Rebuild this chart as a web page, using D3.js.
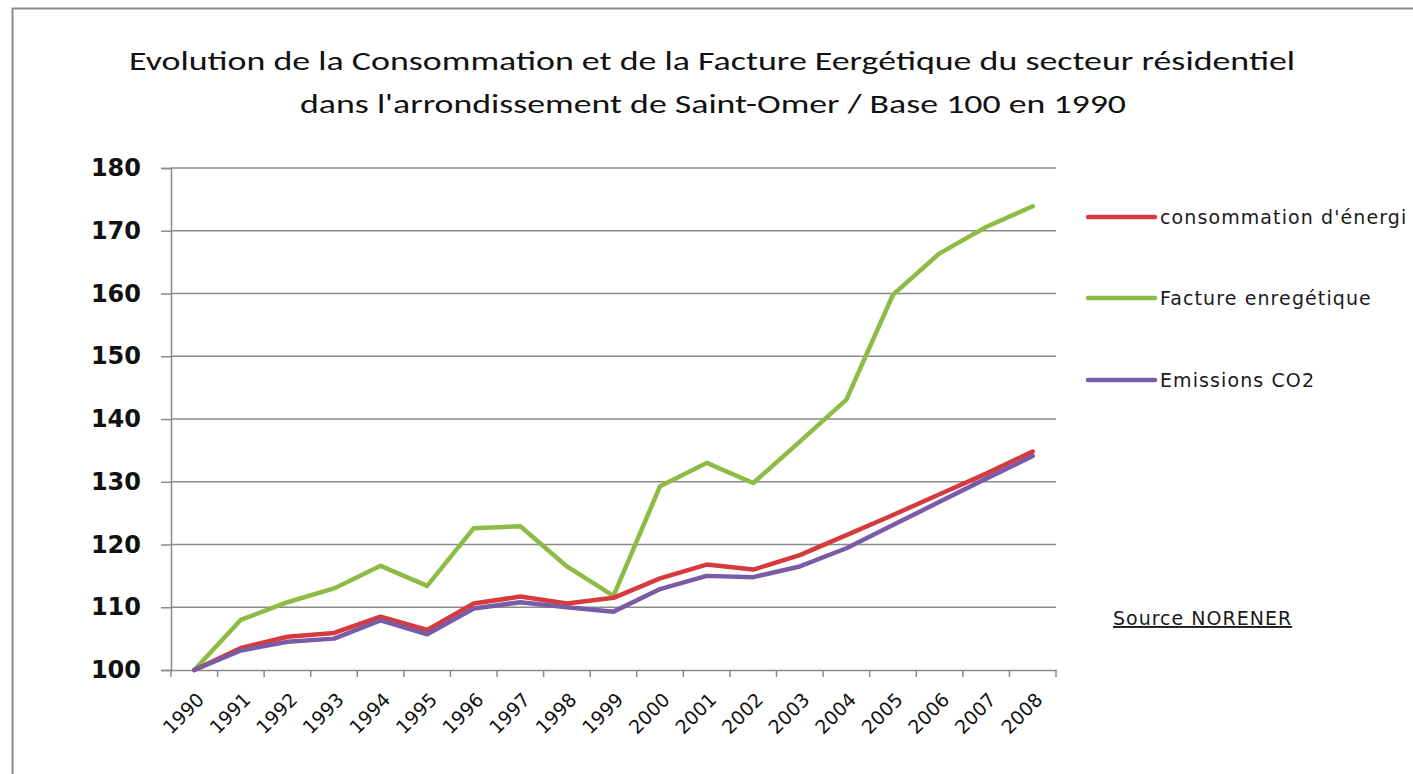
<!DOCTYPE html>
<html>
<head>
<meta charset="utf-8">
<script src="https://cdn.jsdelivr.net/npm/d3@7"></script>
<style>
  body { margin: 0; background: #fff; }
  svg { display: block; }
</style>
</head>
<body>
<div id="chart"></div>
<script>
// data (base 100 in 1990)
var years = ["1990","1991","1992","1993","1994","1995","1996","1997","1998","1999",
             "2000","2001","2002","2003","2004","2005","2006","2007","2008"];
var consommation = [100, 103.5, 105.3, 105.9, 108.5, 106.4, 110.6, 111.7, 110.6, 111.5,
                    114.6, 116.8, 116.0, 118.3, 121.5, 124.7, 128.0, 131.3, 134.8];
var facture = [100, 108.0, 110.8, 113.0, 116.6, 113.4, 122.6, 122.9, 116.5, 111.8,
               129.3, 133.0, 129.8, 136.4, 143.1, 159.8, 166.4, 170.6, 173.9];
var emissions = [100, 103.1, 104.5, 105.0, 107.9, 105.7, 109.8, 110.8, 110.0, 109.3,
                 112.9, 115.0, 114.8, 116.5, 119.4, 123.1, 126.8, 130.5, 134.1];
var yTicks = [100, 110, 120, 130, 140, 150, 160, 170, 180];
var seriesNames = ["consommation d'énergi", "Facture enregétique", "Emissions CO2"];
var titleLines = ["Evolution de la Consommation et de la Facture Eergétique du secteur résidentiel",
                  "dans l'arrondissement  de Saint-Omer / Base 100 en 1990"];

var svgWidth = 1413, svgHeight = 774;
var plot = {left: 171, right: 1056, top: 168, bottom: 670};

var svg = d3.select("#chart").append("svg")
    .attr("width", svgWidth)
    .attr("height", svgHeight);

// chart frame
svg.append("rect")
    .attr("x", 12.5).attr("y", 8.5)
    .attr("width", 1500).attr("height", 1000)
    .attr("fill", "#fff")
    .attr("stroke", "#8c8c8c")
    .attr("stroke-width", 2);

// title
var titleFont = "Carlito, 'Liberation Sans Narrow', 'Open Sans', sans-serif";
svg.append("text")
    .attr("x", 712).attr("y", 70)
    .attr("text-anchor", "middle")
    .attr("font-family", titleFont)
    .attr("font-size", 27)
    .attr("fill", "#111")
    .attr("textLength", 1166)
    .attr("lengthAdjust", "spacingAndGlyphs")
    .text(titleLines[0]);
svg.append("text")
    .attr("x", 713).attr("y", 113)
    .attr("text-anchor", "middle")
    .attr("font-family", titleFont)
    .attr("font-size", 27)
    .attr("fill", "#111")
    .attr("textLength", 826)
    .attr("lengthAdjust", "spacingAndGlyphs")
    .text(titleLines[1]);

var x = d3.scaleBand().domain(years).range([plot.left, plot.right]).padding(0);
var y = d3.scaleLinear().domain([100, 180]).range([plot.bottom, plot.top]);
var cx = function(d) { return x(d) + x.bandwidth() / 2; };

// gridlines
svg.append("g")
    .selectAll("line")
    .data(yTicks.filter(function(t) { return t > 100; }))
    .enter().append("line")
    .attr("x1", plot.left).attr("x2", plot.right)
    .attr("y1", function(d) { return y(d); })
    .attr("y2", function(d) { return y(d); })
    .attr("stroke", "#8a8a8a")
    .attr("stroke-width", 1.5);

// y axis
var leftAxis = d3.axisLeft(y).tickValues(yTicks).tickSize(10).tickPadding(20);
var yAxis = svg.append("g")
    .attr("transform", "translate(" + plot.left + ",0)")
    .call(leftAxis);
yAxis.select(".domain").attr("stroke", "#8a8a8a").attr("stroke-width", 1.5);
yAxis.selectAll(".tick line").attr("stroke", "#8a8a8a").attr("stroke-width", 1.5);
yAxis.selectAll(".tick text")
    .attr("font-family", "'DejaVu Sans', sans-serif")
    .attr("font-weight", "bold")
    .attr("font-size", 24)
    .attr("fill", "#111");

// x axis: ticks at category boundaries
var bottomAxis = d3.axisBottom(x).tickSize(0).tickFormat("");
var xAxis = svg.append("g")
    .attr("transform", "translate(0," + plot.bottom + ")")
    .call(bottomAxis);
xAxis.select(".domain").attr("stroke", "#8a8a8a").attr("stroke-width", 1.5);
xAxis.selectAll(".tick").remove();
var bounds = years.map(function(d) { return x(d); }).concat([plot.right]);
xAxis.selectAll(".bnd")
    .data(bounds)
    .enter().append("line")
    .attr("class", "bnd")
    .attr("x1", function(d) { return d; }).attr("x2", function(d) { return d; })
    .attr("y1", 0).attr("y2", 7)
    .attr("stroke", "#8a8a8a")
    .attr("stroke-width", 1.5);
xAxis.selectAll(".lbl")
    .data(years)
    .enter().append("text")
    .attr("class", "lbl")
    .attr("text-anchor", "end")
    .attr("transform", function(d) { return "translate(" + (cx(d) + 11) + ",31) rotate(-45)"; })
    .attr("font-family", "'DejaVu Sans', sans-serif")
    .attr("font-size", 19)
    .attr("fill", "#111")
    .text(function(d) { return d; });

// lines
var drawLine = d3.line()
    .x(function(d, i) { return cx(years[i]); })
    .y(function(d) { return y(d); });

var colors = ["#d63a3c", "#8dbb45", "#7a5ba6"];
var allSeries = [consommation, facture, emissions];
var drawOrder = [1, 0, 2];

drawOrder.forEach(function(k) {
    svg.append("path")
        .datum(allSeries[k])
        .attr("d", drawLine(allSeries[k]))
        .attr("fill", "none")
        .attr("stroke", colors[k])
        .attr("stroke-width", 4.5)
        .attr("stroke-linejoin", "round")
        .attr("stroke-linecap", "round");
});

// legend
var legendY = [217, 298, 380];
seriesNames.forEach(function(name, i) {
    svg.append("line")
        .attr("x1", 1088).attr("x2", 1155)
        .attr("y1", legendY[i]).attr("y2", legendY[i])
        .attr("stroke", colors[i])
        .attr("stroke-width", 4.5)
        .attr("stroke-linecap", "round");
    svg.append("text")
        .attr("x", 1160).attr("y", legendY[i] + 7)
        .attr("font-family", "'DejaVu Sans', sans-serif")
        .attr("font-size", 19)
        .attr("letter-spacing", 1.1)
        .attr("fill", "#1a1a1a")
        .text(name);
});

// source note
svg.append("text")
    .attr("x", 1113).attr("y", 625)
    .attr("font-family", "'DejaVu Sans', sans-serif")
    .attr("font-size", 19)
    .attr("letter-spacing", 1.0)
    .attr("text-decoration", "underline")
    .attr("fill", "#1a1a1a")
    .text("Source NORENER");
</script>
</body>
</html>
